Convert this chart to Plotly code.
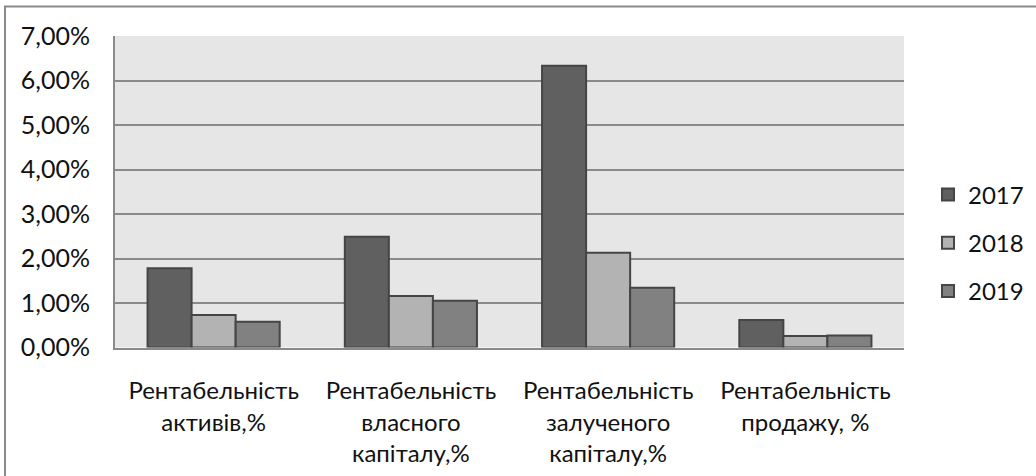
import plotly.graph_objects as go

# Profitability indicators by year (values in %)
categories = [
    "Рентабельність<br>активів,%",
    "Рентабельність<br>власного<br>капіталу,%",
    "Рентабельність<br>залученого<br>капіталу,%",
    "Рентабельність<br>продажу, %",
]
years = ["2017", "2018", "2019"]
values_2017 = [1.78, 2.49, 6.33, 0.62]
values_2018 = [0.73, 1.16, 2.13, 0.26]
values_2019 = [0.58, 1.05, 1.34, 0.27]
y_ticks = [0, 1, 2, 3, 4, 5, 6, 7]
y_tick_labels = ["0,00%", "1,00%", "2,00%", "3,00%", "4,00%", "5,00%", "6,00%", "7,00%"]

series = [values_2017, values_2018, values_2019]
colors = ["#606060", "#b3b3b3", "#818181"]

FONT = "Lato, 'Open Sans', sans-serif"
TEXT = "#111111"

fig = go.Figure()
for name, vals, col in zip(years, series, colors):
    fig.add_trace(go.Bar(
        x=categories,
        y=vals,
        name=name,
        legendgroup=name,
        marker=dict(color=col, line=dict(color="#454545", width=2)),
    ))

W, H = 1036, 476
# plot area in pixels
px0, px1, py0, py1 = 115, 904, 36, 347.5

fig.update_layout(
    width=W,
    height=H,
    margin=dict(l=0, r=0, t=0, b=0, pad=0, autoexpand=False),
    barmode="group",
    bargap=0.33,
    bargroupgap=0,
    paper_bgcolor="white",
    plot_bgcolor="#e6e6e6",
    font=dict(family=FONT, size=24, color=TEXT),
    showlegend=True,
    legend=dict(
        x=928 / W,
        xanchor="left",
        y=1 - 243 / H,
        yanchor="middle",
        tracegroupgap=14,
        font=dict(family=FONT, size=24, color=TEXT),
        bgcolor="rgba(0,0,0,0)",
    ),
    xaxis=dict(
        domain=[px0 / W, px1 / W],
        automargin=False,
        showgrid=False,
        showline=True,
        linecolor="#8a8a8a",
        linewidth=2,
        ticks="",
        ticklabelstandoff=21,
        tickfont=dict(family=FONT, size=24, color=TEXT),
    ),
    yaxis=dict(
        domain=[1 - py1 / H, 1 - py0 / H],
        automargin=False,
        range=[0, 7],
        tickvals=y_ticks,
        ticktext=y_tick_labels,
        showgrid=True,
        gridcolor="#8a8a8a",
        gridwidth=2,
        showline=True,
        linecolor="#8a8a8a",
        linewidth=2,
        zeroline=False,
        ticks="",
        ticklabelstandoff=18,
        tickfont=dict(family=FONT, size=25, color=TEXT),
    ),
    shapes=[
        dict(
            type="rect",
            xref="paper", yref="paper",
            x0=5 / W,
            x1=(W + 20) / W,
            y0=-20 / H,
            y1=1 - 6.5 / H,
            line=dict(color="#8a8a8a", width=2),
            fillcolor="rgba(0,0,0,0)",
            layer="below",
        )
    ],
)

fig.write_html("out.html")
